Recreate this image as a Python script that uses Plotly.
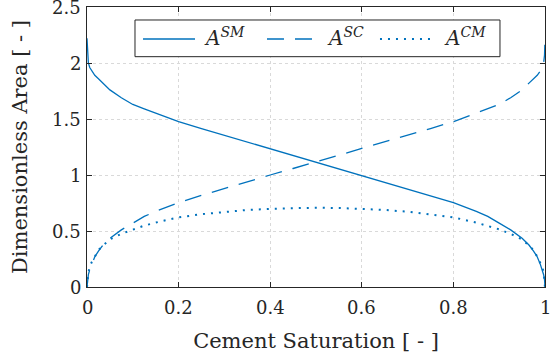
import plotly.graph_objects as go

# Cement saturation samples (denser near both ends where the curves bend sharply)
saturation = [0, 0.001, 0.003, 0.006, 0.01, 0.017, 0.025, 0.035, 0.05, 0.075,
              0.1, 0.125, 0.15, 0.2, 0.25, 0.3, 0.35, 0.4, 0.45, 0.5,
              0.55, 0.6, 0.65, 0.7, 0.75, 0.8, 0.85, 0.875, 0.9, 0.925,
              0.95, 0.965, 0.975, 0.983, 0.99, 0.994, 0.997, 0.999, 1]

# Dimensionless areas at each saturation
a_sm = [2.22, 2.07, 2.0, 1.96, 1.93, 1.89, 1.86, 1.82, 1.76, 1.69,
        1.63, 1.59, 1.55, 1.476, 1.415, 1.355, 1.295, 1.238, 1.176, 1.115,
        1.058, 1.0, 0.94, 0.88, 0.818, 0.753, 0.675, 0.63, 0.57, 0.51,
        0.435, 0.375, 0.32, 0.27, 0.2, 0.155, 0.11, 0.063, 0]
a_sc = [0, 0.063, 0.11, 0.155, 0.2, 0.27, 0.32, 0.375, 0.435, 0.51,
        0.57, 0.63, 0.675, 0.753, 0.818, 0.88, 0.94, 1.0, 1.058, 1.115,
        1.176, 1.238, 1.295, 1.355, 1.415, 1.476, 1.55, 1.59, 1.63, 1.69,
        1.76, 1.82, 1.86, 1.89, 1.93, 1.96, 2.0, 2.07, 2.22]
a_cm = [0, 0.07, 0.13, 0.18, 0.22, 0.27, 0.33, 0.37, 0.425, 0.475,
        0.515, 0.548, 0.575, 0.622, 0.65, 0.672, 0.688, 0.698, 0.705, 0.708,
        0.705, 0.698, 0.688, 0.672, 0.65, 0.622, 0.575, 0.548, 0.515, 0.475,
        0.425, 0.37, 0.33, 0.27, 0.22, 0.18, 0.13, 0.07, 0]

series_names = ["<i>A</i><sup><i>SM</i></sup>",
                "<i>A</i><sup><i>SC</i></sup>",
                "<i>A</i><sup><i>CM</i></sup>"]

x_ticks = [0, 0.2, 0.4, 0.6, 0.8, 1]
x_tick_text = ["0", "0.2", "0.4", "0.6", "0.8", "1"]
y_ticks = [0, 0.5, 1, 1.5, 2, 2.5]
y_tick_text = ["0", "0.5", "1", "1.5", "2", "2.5"]

BLUE = "#0072BD"
INK = "#262626"
FONT = "DejaVu Serif"

line_styles = [dict(color=BLUE, width=1.3),
               dict(color=BLUE, width=1.3, dash="17px,11px"),
               dict(color=BLUE, width=2, dash="2px,6px")]

fig = go.Figure()
for ys, name, style in zip([a_sm, a_sc, a_cm], series_names, line_styles):
    fig.add_trace(go.Scatter(x=saturation, y=ys, mode="lines", name=name,
                             line=style, showlegend=False))

axis_common = dict(
    showline=True, linecolor=INK, linewidth=1, mirror="ticks",
    ticks="inside", ticklen=5, tickcolor=INK,
    showgrid=True, gridcolor="#d9d9d9", griddash="dot", gridwidth=1,
    zeroline=False, showticklabels=False,
)

fig.update_xaxes(range=[0, 1], tickvals=x_ticks,
                 title_text="Cement Saturation [ - ]", title_standoff=46,
                 **axis_common)
fig.update_yaxes(range=[0, 2.5], tickvals=y_ticks,
                 title_text="Dimensionless Area [ - ]", title_standoff=52,
                 **axis_common)

tick_font = dict(family=FONT, size=18, color=INK)
legend_font = dict(family=FONT, size=20, color=INK)

# tick labels placed on the axes' own scales
for v, t in zip(x_ticks, x_tick_text):
    fig.add_annotation(x=v, xref="x", y=0, yref="paper", text=t, font=tick_font,
                       showarrow=False, xanchor="center", yanchor="top", yshift=-8)
for v, t in zip(y_ticks, y_tick_text):
    fig.add_annotation(x=0, xref="paper", y=v, yref="y", text=t, font=tick_font,
                       showarrow=False, xanchor="right", yanchor="middle", xshift=-4)

# legend box with line samples and labels
fig.add_shape(type="rect", xref="paper", yref="paper",
              x0=0.1048, x1=0.9017, y0=0.8226, y1=0.9536,
              line=dict(color=INK, width=1), fillcolor="white", layer="above")
legend_slots = [(0.1223, 0.2358, 0.2511), (0.393, 0.5044, 0.5197), (0.6397, 0.7598, 0.7751)]
for (lx0, lx1, tx), name, style in zip(legend_slots, series_names, line_styles):
    fig.add_shape(type="line", xref="paper", yref="paper",
                  x0=lx0, x1=lx1, y0=0.8857, y1=0.8857, line=style, layer="above")
    fig.add_annotation(x=tx, xref="paper", y=0.8857, yref="paper", text=name,
                       font=legend_font, showarrow=False,
                       xanchor="left", yanchor="middle", yshift=2)

fig.update_layout(
    width=558, height=361,
    margin=dict(l=87, r=13, t=7, b=74),
    plot_bgcolor="white", paper_bgcolor="white",
    font=dict(family=FONT, size=17.5, color=INK),
    showlegend=False,
)

fig.write_html("out.html")
